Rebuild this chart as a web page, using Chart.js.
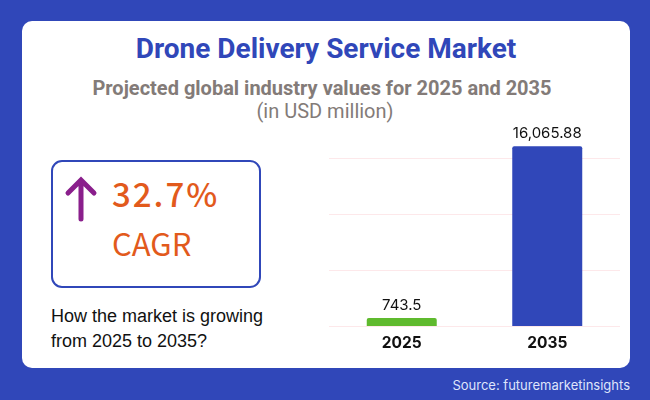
<!DOCTYPE html>
<html><head><meta charset="utf-8">
<script src="https://cdn.jsdelivr.net/npm/chart.js@4/dist/chart.umd.min.js"></script>
<style>
html,body{margin:0;padding:0;width:650px;height:400px;overflow:hidden;background:#3047b9}
.t{position:absolute;white-space:nowrap;line-height:1}
#card{position:absolute;left:22px;top:21px;width:608px;height:347px;background:#fff;border-radius:10px}
#title{left:22px;width:608px;text-align:center;top:32px;font:700 28px Roboto;color:#3047b9}
#sub{left:18px;width:608px;text-align:center;top:76px;font:700 20px Roboto;color:#837b78}
#unit{left:21px;width:608px;text-align:center;top:99px;font:400 20px Roboto;color:#837b78}
#box{position:absolute;left:51px;top:160px;width:206px;height:124px;border:2px solid #3047b9;border-radius:11px}
#pct{left:112px;top:169px;font:500 33px "Noto Sans CJK SC";color:#e25a1c;letter-spacing:2px}
#cagr{left:112px;top:220px;font:400 31px "Noto Sans CJK SC";color:#e25a1c}
#q{left:51px;top:304px;font:400 18px/25px "Liberation Sans";color:#111}
#src{right:20px;top:377px;font:400 13px Inter;color:#dfe4fb}
svg{position:absolute;left:60px;top:170px}
#wrap{position:absolute;left:329px;top:100px;width:291px;height:260px}
</style></head><body>
<div id="card"></div>
<div class="t" id="title">Drone Delivery Service Market</div>
<div class="t" id="sub">Projected global industry values for 2025 and 2035</div>
<div class="t" id="unit">(in USD million)</div>
<div id="box"></div>
<svg width="44" height="56"><path d="M21 10V49M8 23L21 10L34 23" fill="none" stroke="#8a1f8c" stroke-width="5" stroke-linecap="round" stroke-linejoin="miter"/></svg>
<div class="t" id="pct">32.7%</div>
<div class="t" id="cagr">CAGR</div>
<div class="t" id="q">How the market is growing<br>from 2025 to 2035?</div>
<div class="t" id="src">Source: futuremarketinsights</div>
<div id="wrap"><canvas id="c"></canvas></div>
<script>
const categories = ['2025','2035'];
const values = [743.5,16065.88];
const valueLabels = ['743.5','16,065.88'];
const barColors = ['#5fba2e','#3047b9'];
const gridTicks = [0,5000,10000,15000];
const labelPlugin = {id:'vals',afterDatasetsDraw(ch){
  const g=ch.ctx,m=ch.getDatasetMeta(0);
  g.save();g.font='400 15px Inter';g.fillStyle='#111';g.textAlign='center';g.textBaseline='alphabetic';
  m.data.forEach((b,i)=>g.fillText(valueLabels[i],b.x,Math.round(b.y)-8));
  g.restore();
}};
new Chart(document.getElementById('c'),{
  type:'bar',
  data:{labels:categories,datasets:[{data:values,backgroundColor:barColors,borderWidth:0,
    borderRadius:{topLeft:2,topRight:2,bottomLeft:0,bottomRight:0},borderSkipped:'bottom',
    barPercentage:0.481,categoryPercentage:1}]},
  plugins:[labelPlugin],
  options:{responsive:true,maintainAspectRatio:false,animation:false,
    layout:{padding:{top:2,left:0,right:0,bottom:0}},
    plugins:{legend:{display:false},tooltip:{enabled:false},title:{display:false}},
    scales:{
      x:{grid:{display:false},border:{display:false},
        ticks:{color:'#111',font:{family:'Inter',size:15.5,weight:'700'},padding:0,maxRotation:0},
        afterFit(s){s.height=33.6;}},
      y:{min:0,max:20000,
        afterBuildTicks(s){s.ticks=gridTicks.map(v=>({value:v}));},
        grid:{color:'#fde8ea',lineWidth:1,drawTicks:false},border:{display:false},
        ticks:{display:false},afterFit(s){s.width=0;}}
    }}
});
</script>
</body></html>
